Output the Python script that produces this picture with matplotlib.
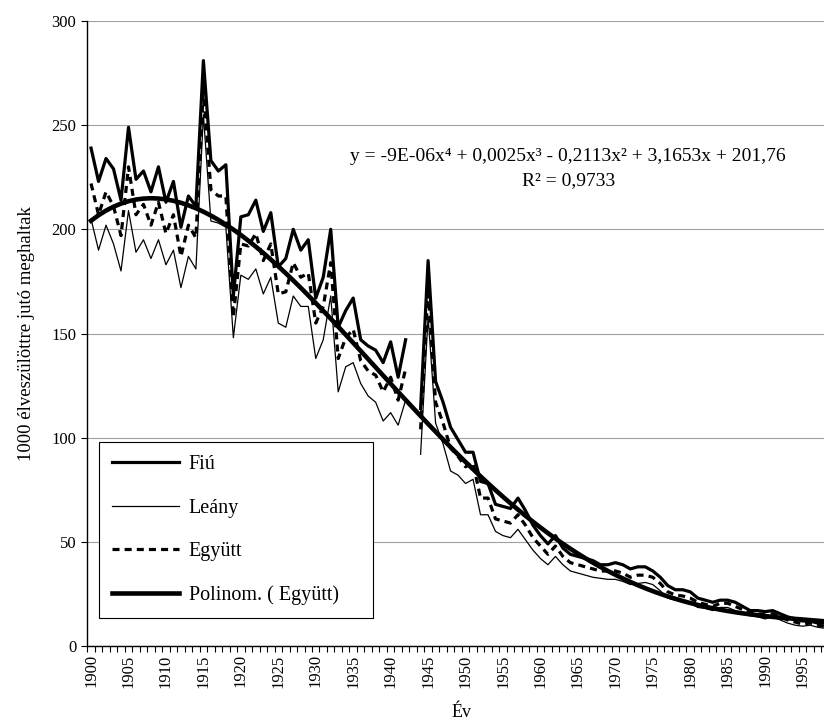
import numpy as np
import matplotlib
matplotlib.use("Agg")
import matplotlib.pyplot as plt
from matplotlib.ticker import MultipleLocator

plt.rcParams['font.family'] = ['Liberation Serif', 'DejaVu Serif']

years = list(range(1900, 2000))
nan = np.nan

# 1000 élveszülöttre jutó csecsemőhalálozás
fiu = [239, 223, 234, 229, 214, 249, 224, 228, 218, 230,
       213, 223, 201, 216, 211, 281, 233, 228, 231, 168,
       206, 207, 214, 199, 208, 182, 186, 200, 190, 195,
       167, 177, 200, 153, 161, 167, 147, 144, 142, 136,
       146, 129, 147, nan, 114, 185, 127, 117, 105, 99,
       93, 93, 79, 78, 68, 67, 66, 71, 65, 58,
       53, 49, 53, 47, 44, 43, 42, 41, 39, 39,
       40, 39, 37, 38, 38, 36, 33, 29, 27, 27,
       26, 23, 22, 21, 22, 22, 21, 19, 17, 17,
       16.5, 17, 15.5, 14, 13, 12, 12, 11, 11, 9.5]

leany = [205, 190, 202, 193, 180, 209, 189, 195, 186, 195,
         183, 190, 172, 187, 181, 255, 204, 203, 201, 148,
         178, 176, 181, 169, 177, 155, 153, 168, 163, 163,
         138, 147, 168, 122, 134, 136, 126, 120, 117, 108,
         112, 106, 118, nan, 92, 158, 107, 97, 84, 82,
         78, 80, 63, 63, 55, 53, 52, 56, 51, 46,
         42, 39, 43, 39, 36, 35, 34, 33, 32.5, 32,
         32, 31, 29.5, 30, 30.5, 29.5, 26.5, 23, 22, 21.5,
         20.5, 18.5, 18, 17, 18.5, 18.5, 17, 15.5, 14.5, 14,
         13, 14, 12.5, 11, 10, 9.5, 10, 9, 8.5, 7.5]

egyutt = [222, 207, 218, 211, 197, 230, 207, 212, 202, 213,
          198, 207, 187, 202, 196, 268, 219, 216, 216, 158,
          193, 192, 198, 185, 193, 169, 170, 184, 177, 179,
          155, 163, 184, 138, 148, 152, 137, 132, 130, 122,
          129, 118, 133, nan, 104, 172, 117, 107, 95, 91,
          86, 88, 71, 71, 61, 60, 59, 63, 58, 52,
          48, 44, 48, 43, 40, 39, 38, 37, 36, 36,
          36, 35, 33, 34, 34, 33, 30, 26, 24.5, 24,
          23, 21, 20, 19, 20.5, 20.5, 19, 17.5, 16, 15.5,
          15, 15.5, 14, 12.5, 11.5, 10.5, 11, 10, 9.5, 8.5]

x = np.array(years)
y_e = np.array(egyutt, dtype=float)

# negyedfokú polinomiális trend az "Együtt" sorra (x = 1..100, mint az Excelben)
idx = np.arange(1, len(years) + 1)
ok = ~np.isnan(y_e)
coef = np.polyfit(idx[ok], y_e[ok], 4)
trend = np.polyval(coef, idx)

fig = plt.figure(figsize=(8.24, 7.27), dpi=100)
ax = fig.add_axes([87.3 / 824, 81 / 727, 749 / 824, 625 / 727])

ax.plot(x, fiu, color='black', lw=2.3, label='Fiú')
ax.plot(x, leany, color='black', lw=0.9, label='Leány')
ax.plot(x, egyutt, color='black', lw=2.3, dashes=(2.2, 1.6), label='Együtt')
ax.plot(x, trend, color='black', lw=3.3, label='Polinom. ( Együtt)')

ax.set_xlim(1899.5, 1999.5)
ax.set_ylim(0, 300)
ax.yaxis.set_major_locator(MultipleLocator(50))
ax.grid(axis='y', color='#a0a0a0', lw=0.8)
ax.set_axisbelow(True)

ax.set_xticks(list(range(1900, 2000, 5)))
ax.set_xticklabels([str(v) for v in range(1900, 2000, 5)], rotation=90)
ax.set_xticks(np.arange(1899.5, 2000, 1), minor=True)
ax.tick_params(axis='x', which='major', length=0, pad=6, labelsize=12)
ax.tick_params(axis='x', which='minor', length=4, width=0.8, direction='out')
ax.tick_params(axis='y', length=4, width=0.8, direction='out', labelsize=12, pad=4)

for s in ['top', 'right']:
    ax.spines[s].set_visible(False)
for s in ['left', 'bottom']:
    ax.spines[s].set_linewidth(1.0)

ax.set_ylabel('1000 élveszülöttre jutó meghaltak', fontsize=13.5, labelpad=12)
ax.set_xlabel('Év', fontsize=13, labelpad=12)

ax.text(0.642, 0.783,
        'y = -9E-06x⁴ + 0,0025x³ - 0,2113x² + 3,1653x + 201,76',
        transform=ax.transAxes, ha='center', va='center', fontsize=14)
ax.text(0.642, 0.745, 'R² = 0,9733', transform=ax.transAxes,
        ha='center', va='center', fontsize=14)

leg = ax.legend(loc='lower left', bbox_to_anchor=(0.0156, 0.0448, 0.366, 0.282),
                mode='expand', borderaxespad=0, fontsize=14.5,
                handlelength=3.3, handletextpad=0.5, labelspacing=1.2,
                borderpad=0.65, fancybox=False, edgecolor='black', framealpha=1)
leg.get_frame().set_linewidth(0.8)

fig.savefig('out.png', dpi=100)
